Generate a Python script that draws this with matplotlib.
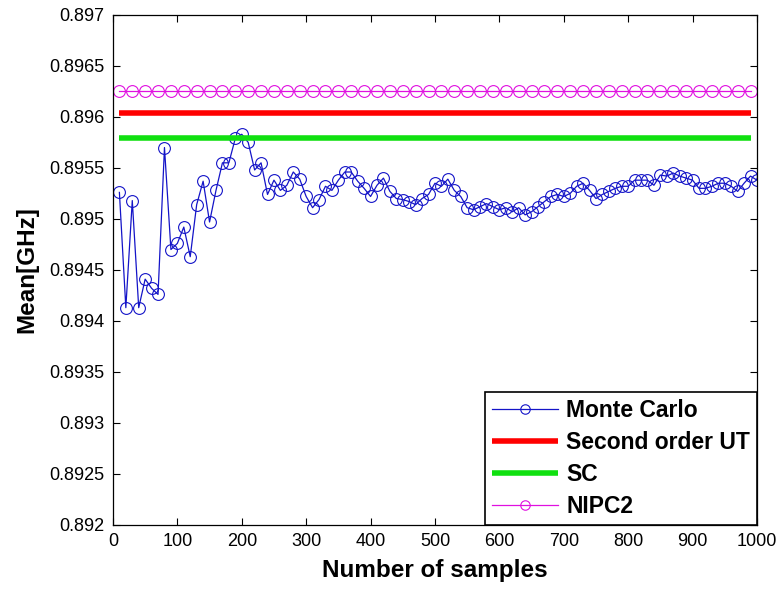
import numpy as np
import matplotlib
matplotlib.use("Agg")
import matplotlib.pyplot as plt
from matplotlib.ticker import FormatStrFormatter

plt.rcParams.update({
    "font.family": ["Liberation Sans", "DejaVu Sans"],
    "xtick.direction": "in", "ytick.direction": "in",
    "xtick.top": True, "ytick.right": True,
    "xtick.major.size": 5, "ytick.major.size": 5,
    "xtick.major.width": 0.8, "ytick.major.width": 0.8,
    "axes.linewidth": 0.9,
})

# ---- data ----
mc_samples = np.arange(10, 1001, 10)
mc_mean = [
    0.89526, 0.89413, 0.89518, 0.89413, 0.89441, 0.89432, 0.89426, 0.89570, 0.89470, 0.89476,
    0.89492, 0.89463, 0.89514, 0.89537, 0.89497, 0.89528, 0.89555, 0.89555, 0.89579, 0.89583,
    0.89575, 0.89548, 0.89555, 0.89524, 0.89538, 0.89528, 0.89533, 0.89546, 0.89539, 0.89522,
    0.89511, 0.89519, 0.89532, 0.89528, 0.89538, 0.89546, 0.89546, 0.89537, 0.89530, 0.89522,
    0.89533, 0.89540, 0.89527, 0.89520, 0.89519, 0.89517, 0.89514, 0.89520, 0.89524, 0.89535,
    0.89532, 0.89539, 0.89528, 0.89522, 0.89511, 0.89509, 0.89512, 0.89515, 0.89512, 0.89509,
    0.89511, 0.89507, 0.89511, 0.89504, 0.89507, 0.89512, 0.89517, 0.89522, 0.89524, 0.89522,
    0.89525, 0.89532, 0.89535, 0.89528, 0.89520, 0.89524, 0.89527, 0.89530, 0.89532, 0.89532,
    0.89538, 0.89538, 0.89538, 0.89533, 0.89543, 0.89542, 0.89545, 0.89542, 0.89540, 0.89538,
    0.89530, 0.89530, 0.89532, 0.89535, 0.89535, 0.89532, 0.89527, 0.89535, 0.89542, 0.89538,
]
ref_samples = np.arange(10, 991, 20)
ut2_mean = 0.89604
sc_mean = 0.89579
nipc2_mean = 0.89625

xticks = np.arange(0, 1001, 100)
yticks = np.arange(0.892, 0.89701, 0.0005)

fig = plt.figure(figsize=(7.79, 5.89), dpi=100)
ax = fig.add_axes([0.145, 0.1087, 0.8267, 0.866])

ax.plot(mc_samples, mc_mean, color="#1414c8", lw=0.9, marker="o", ms=8.5,
        mfc="none", mew=0.8, label="Monte Carlo")
ax.plot(ref_samples, np.full(len(ref_samples), ut2_mean), color="#ff0000",
        lw=4, solid_capstyle="butt", label="Second order UT")
ax.plot(ref_samples, np.full(len(ref_samples), sc_mean), color="#10e010",
        lw=4, solid_capstyle="butt", label="SC")
ax.plot(ref_samples, np.full(len(ref_samples), nipc2_mean), color="#e010e0",
        lw=0.9, marker="o", ms=8.5, mfc="none", mew=0.8, label="NIPC2")

ax.set_xlim(0, 1000)
ax.set_ylim(0.892, 0.897)
ax.set_xticks(xticks)
ax.set_yticks(yticks)
ax.yaxis.set_major_formatter(FormatStrFormatter("%g"))
ax.tick_params(labelsize=13, pad=6)

ax.set_xlabel("Number of samples", fontsize=17.5, fontweight="bold", labelpad=6)
ax.set_ylabel("Mean[GHz]", fontsize=17.5, fontweight="bold", labelpad=8)

leg = ax.legend(loc="lower right", prop={"weight": "bold", "size": 16.5},
                frameon=True, fancybox=False, borderaxespad=0, handlelength=2.9,
                handletextpad=0.35, labelspacing=0.4, borderpad=0.3,
                markerscale=0.8)
leg.get_frame().set_edgecolor("black")
leg.get_frame().set_linewidth(1.2)
leg.get_frame().set_alpha(1)

fig.savefig("out.png", dpi=100)
